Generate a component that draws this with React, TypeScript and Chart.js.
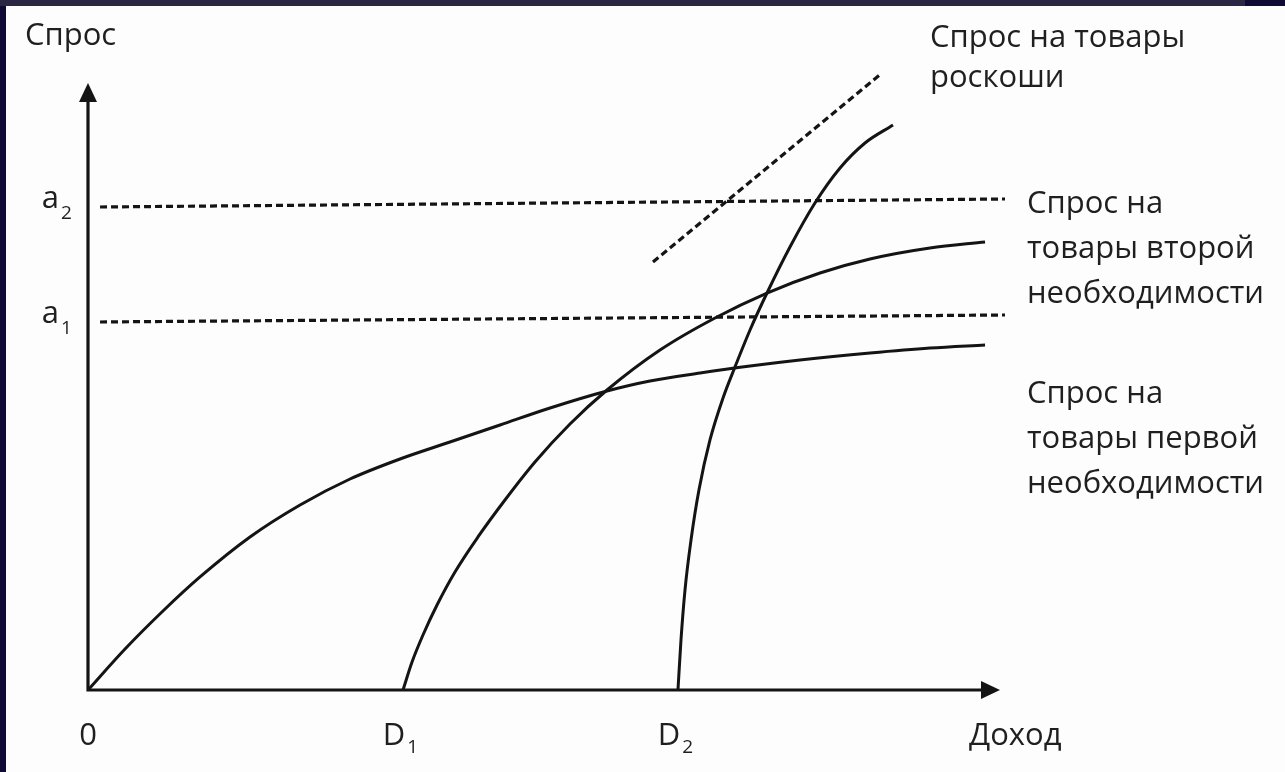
import { useEffect, useRef } from "react";
import { Chart, registerables } from "chart.js";

Chart.register(...registerables);

// ---- Data (income on x, demand on y; arbitrary units) ----
const X_AXIS_MAX = 100;
const Y_AXIS_MAX = 100;

// Demand for first-necessity goods
const firstNecX = [0, 4.06, 8.22, 12.28, 17.76, 23.25, 28.73, 34.21, 39.69, 45.18, 50.66, 56.91, 61.62, 67.11, 72.59, 78.07, 85.75, 92.32, 98.36];
const firstNecY = [0, 6.75, 13.01, 18.62, 25.21, 30.48, 34.76, 38.06, 40.86, 43.66, 46.46, 49.26, 50.91, 52.22, 53.38, 54.37, 55.52, 56.34, 56.84];

// Demand for second-necessity goods
const secondNecX = [34.54, 35.53, 36.73, 38.27, 40.24, 42.76, 45.72, 49.01, 52.85, 56.91, 62.72, 68.75, 74.45, 80.26, 85.75, 92.32, 98.36];
const secondNecY = [0, 4.61, 9.06, 14.0, 19.44, 25.21, 31.3, 37.56, 43.82, 49.42, 56.01, 61.29, 65.4, 68.7, 71.01, 72.82, 73.81];

// Demand for luxury goods (solid curve)
const luxuryX = [64.69, 65.02, 65.46, 66.12, 66.99, 68.2, 69.63, 70.94, 72.59, 74.45, 76.97, 79.71, 82.46, 85.2, 88.27];
const luxuryY = [0, 8.24, 16.47, 24.71, 32.95, 41.19, 48.11, 53.21, 59.31, 65.4, 72.98, 80.23, 86.0, 90.12, 93.08];

// Luxury demand dashed straight line
const luxuryDashX = [61.95, 87.06];
const luxuryDashY = [70.51, 101.65];

// Levels a1, a2 (dashed horizontal lines, slightly tilted as in the scan)
const levelLineX = [1.32, 100.55];
const a1LineY = [60.63, 61.78];
const a2LineY = [79.57, 80.89];

// Tick labels
const xTickValues = [0, 34.54, 64.69];
const xTickMain = ["0", "D", "D"];
const xTickSub = ["", "1", "2"];
const yTickValues = [60.63, 79.57];
const yTickMain = ["a", "a"];
const yTickSub = ["1", "2"];

const yAxisTitle = "Спрос";
const xAxisTitle = "Доход";
const luxuryLabel = ["Спрос на товары", "роскоши"];
const secondLabel = ["Спрос на", "товары второй", "необходимости"];
const firstLabel = ["Спрос на", "товары первой", "необходимости"];

const toPoints = (xs: number[], ys: number[]) => xs.map((x, i) => ({ x, y: ys[i] }));

const INK = "#141414";
const TEXT = "#1f1f1f";
const FONT = '"Open Sans", "Noto Sans", sans-serif';

const overlayPlugin = {
  id: "econOverlay",
  afterDatasetsDraw(chart: any) {
    const { ctx, scales } = chart;
    const xs = scales.x;
    const ys = scales.y;
    const x0 = xs.getPixelForValue(0);
    const y0 = ys.getPixelForValue(0);
    const xEnd = xs.getPixelForValue(X_AXIS_MAX);
    const yEnd = ys.getPixelForValue(Y_AXIS_MAX);

    ctx.save();
    // axes
    ctx.strokeStyle = INK;
    ctx.fillStyle = INK;
    ctx.lineWidth = 3.2;
    ctx.lineCap = "butt";
    ctx.beginPath();
    ctx.moveTo(x0, y0);
    ctx.lineTo(xEnd - 16, y0);
    ctx.moveTo(x0, y0 + 1.5);
    ctx.lineTo(x0, yEnd + 16);
    ctx.stroke();
    // arrowheads
    ctx.beginPath();
    ctx.moveTo(xEnd, y0);
    ctx.lineTo(xEnd - 19, y0 - 9);
    ctx.lineTo(xEnd - 19, y0 + 9);
    ctx.closePath();
    ctx.fill();
    ctx.beginPath();
    ctx.moveTo(x0, yEnd);
    ctx.lineTo(x0 - 9, yEnd + 19);
    ctx.lineTo(x0 + 9, yEnd + 19);
    ctx.closePath();
    ctx.fill();

    // tick labels
    ctx.fillStyle = TEXT;
    ctx.textBaseline = "alphabetic";
    const mainFont = `31px ${FONT}`;
    const subFont = `19px ${FONT}`;
    xTickValues.forEach((v, i) => {
      const px = xs.getPixelForValue(v);
      ctx.font = mainFont;
      const w = ctx.measureText(xTickMain[i]).width;
      const cx = xTickSub[i] ? px - 9 : px;
      ctx.textAlign = "left";
      ctx.fillText(xTickMain[i], cx - w / 2, y0 + 55);
      if (xTickSub[i]) {
        ctx.font = subFont;
        ctx.fillText(xTickSub[i], cx + w / 2 + 2, y0 + 63);
      }
    });
    yTickValues.forEach((v, i) => {
      const py = ys.getPixelForValue(v);
      ctx.font = mainFont;
      ctx.textAlign = "right";
      ctx.fillText(yTickMain[i], x0 - 29, py + 1);
      ctx.font = subFont;
      ctx.textAlign = "left";
      ctx.fillText(yTickSub[i], x0 - 27, py + 12);
    });

    // axis titles
    ctx.font = mainFont;
    ctx.textAlign = "left";
    ctx.fillText(yAxisTitle, x0 - 63, yEnd - 38);
    ctx.fillText(xAxisTitle, xEnd - 31, y0 + 55);

    // curve labels
    const drawBlock = (lines: string[], x: number, y: number, step: number) => {
      lines.forEach((t, i) => ctx.fillText(t, x, y + i * step));
    };
    drawBlock(luxuryLabel, 930, 47, 40);
    drawBlock(secondLabel, 1027, 213, 45);
    drawBlock(firstLabel, 1027, 403, 45);
    ctx.restore();
  },
};

export default function App() {
  const canvasRef = useRef<HTMLCanvasElement | null>(null);

  useEffect(() => {
    if (!canvasRef.current) return;
    const solid = (xs: number[], ys: number[]) => ({
      data: toPoints(xs, ys),
      showLine: true,
      borderColor: INK,
      borderWidth: 3,
      pointRadius: 0,
      cubicInterpolationMode: "monotone" as const,
      fill: false,
      clip: false as any,
    });
    const dashed = (xs: number[], ys: number[]) => ({
      data: toPoints(xs, ys),
      showLine: true,
      borderColor: INK,
      borderWidth: 3.2,
      borderDash: [7, 4],
      pointRadius: 0,
      tension: 0,
      fill: false,
      clip: false as any,
    });
    const chart = new Chart(canvasRef.current, {
      type: "scatter",
      data: {
        datasets: [
          { label: "a2", ...dashed(levelLineX, a2LineY) },
          { label: "a1", ...dashed(levelLineX, a1LineY) },
          { label: "Спрос на товары роскоши (пунктир)", ...dashed(luxuryDashX, luxuryDashY) },
          { label: "Спрос на товары первой необходимости", ...solid(firstNecX, firstNecY) },
          { label: "Спрос на товары второй необходимости", ...solid(secondNecX, secondNecY) },
          { label: "Спрос на товары роскоши", ...solid(luxuryX, luxuryY) },
        ],
      },
      options: {
        responsive: false,
        animation: false,
        devicePixelRatio: 1,
        layout: { padding: { left: 88, right: 285, top: 83, bottom: 82 } },
        plugins: { legend: { display: false }, tooltip: { enabled: false } },
        scales: {
          x: { type: "linear", min: 0, max: X_AXIS_MAX, display: false },
          y: { type: "linear", min: 0, max: Y_AXIS_MAX, display: false },
        },
      },
      plugins: [overlayPlugin],
    });
    return () => chart.destroy();
  }, []);

  return (
    <div style={{ position: "fixed", left: 0, top: 0, width: 1285, height: 772, background: "#0d0a33", overflow: "hidden" }}>
      <div style={{ position: "absolute", left: 0, top: 0, width: 1245, height: 6, background: "#2a2744" }} />
      <div style={{ position: "absolute", left: 6, top: 6, right: 0, bottom: 0, background: "#fdfdfd" }} />
      <canvas ref={canvasRef} width={1285} height={772} style={{ position: "absolute", left: 0, top: 0, display: "block" }} />
    </div>
  );
}
